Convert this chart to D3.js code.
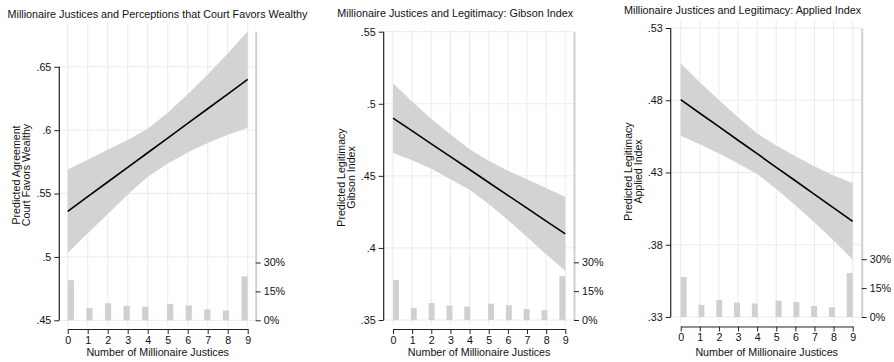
<!DOCTYPE html>
<html>
<head>
<meta charset="utf-8">
<script src="https://cdn.jsdelivr.net/npm/d3@7"></script>
<style>
  html, body { margin: 0; padding: 0; background: #fff; }
  svg { display: block; }
  text { font-family: "Liberation Sans", Arial, sans-serif; fill: #111; }
</style>
</head>
<body>
<svg id="chart" width="894" height="362"></svg>
<script>
// Number of millionaire justices on the Court (x axis)
const justices = [0, 1, 2, 3, 4, 5, 6, 7, 8, 9];

// Share of respondents (%) at each number of millionaire justices
const pctRespondents = [20.8, 6.3, 8.8, 7.5, 7.0, 8.5, 7.7, 5.7, 5.1, 22.8];

// Predicted agreement that the Court favors the wealthy, with 95% CI
const favorsFit = [0.5360, 0.5476, 0.5591, 0.5707, 0.5822, 0.5938, 0.6053, 0.6169, 0.6284, 0.6400];
const favorsLo  = [0.5030, 0.5186, 0.5336, 0.5492, 0.5632, 0.5738, 0.5823, 0.5899, 0.5964, 0.6020];
const favorsHi  = [0.5690, 0.5766, 0.5846, 0.5922, 0.6012, 0.6138, 0.6283, 0.6439, 0.6604, 0.6780];

// Predicted legitimacy, Gibson index, with 95% CI
const gibsonFit = [0.4901, 0.4812, 0.4722, 0.4633, 0.4544, 0.4454, 0.4365, 0.4276, 0.4186, 0.4097];
const gibsonLo  = [0.4659, 0.4609, 0.4550, 0.4477, 0.4404, 0.4304, 0.4194, 0.4076, 0.3956, 0.3840];
const gibsonHi  = [0.5143, 0.5015, 0.4894, 0.4789, 0.4684, 0.4604, 0.4536, 0.4476, 0.4416, 0.4354];

// Predicted legitimacy, applied index, with 95% CI
const appliedFit = [0.4804, 0.4710, 0.4617, 0.4523, 0.4430, 0.4336, 0.4243, 0.4149, 0.4055, 0.3962];
const appliedLo  = [0.4554, 0.4495, 0.4432, 0.4363, 0.4290, 0.4186, 0.4073, 0.3954, 0.3830, 0.3697];
const appliedHi  = [0.5054, 0.4925, 0.4802, 0.4683, 0.4570, 0.4486, 0.4413, 0.4344, 0.4280, 0.4227];

// Axis ticks
const favorsTicks  = [0.45, 0.50, 0.55, 0.60, 0.65];
const gibsonTicks  = [0.35, 0.40, 0.45, 0.50, 0.55];
const appliedTicks = [0.33, 0.38, 0.43, 0.48, 0.53];
const pctTicks = [0, 15, 30];
const pctMax = 150;

const titles = [
  "Millionaire Justices and Perceptions that Court Favors Wealthy",
  "Millionaire Justices and Legitimacy: Gibson Index",
  "Millionaire Justices and Legitimacy: Applied Index"
];
const yTitles = [
  ["Predicted Agreement", "Court Favors Wealthy"],
  ["Predicted Legitimacy", "Gibson Index"],
  ["Predicted Legitimacy", "Applied Index"]
];
const xTitle = "Number of Millionaire Justices";

// Panel geometry
const panels = [
  { fit: favorsFit, lo: favorsLo, hi: favorsHi, ticks: favorsTicks,
    axisX: 59.3, x0: 67.7, x9: 247.7, rightX: 255.7,
    yBot: 320.3, yTop: 31.3, gridTop: 24, gridBot: 326, xAxisY: 329,
    titleX: 7.5, titleY: 17.5 },
  { fit: gibsonFit, lo: gibsonLo, hi: gibsonHi, ticks: gibsonTicks,
    axisX: 383.7, x0: 393, x9: 565.3, rightX: 574,
    yBot: 320, yTop: 31.7, gridTop: 30, gridBot: 325, xAxisY: 329,
    titleX: 337.3, titleY: 17.3 },
  { fit: appliedFit, lo: appliedLo, hi: appliedHi, ticks: appliedTicks,
    axisX: 670.7, x0: 680.7, x9: 852.7, rightX: 861.7,
    yBot: 317, yTop: 28, gridTop: 20, gridBot: 323, xAxisY: 326.5,
    titleX: 624, titleY: 14 }
];

const FONT = 10.7;
const svg = d3.select("#chart");
const fmtDec = v => String(v).replace(/^0/, "");

// Histogram bins: 29 equal-width bins over [0, 9]
const binGen = d3.bin()
  .value(d => d.k)
  .domain([0, 9])
  .thresholds(d3.range(1, 29).map(j => 9 * j / 29));
const binned = binGen(justices.map((k, i) => ({ k, pct: pctRespondents[i] })))
  .map(b => ({ x0: b.x0, x1: b.x1, pct: d3.sum(b, d => d.pct) }))
  .filter(b => b.pct > 0);

panels.forEach((p, idx) => {
  const g = svg.append("g");
  const x = d3.scaleLinear().domain([0, 9]).range([p.x0, p.x9]);
  const yMax = Math.max(p.ticks[p.ticks.length - 1], d3.max(p.hi));
  const y = d3.scaleLinear().domain([p.ticks[0], yMax]).range([p.yBot, p.yTop]);
  const y2 = d3.scaleLinear().domain([0, pctMax]).range([p.yBot, p.yTop]);

  // grid
  g.append("g").selectAll("line").data(p.ticks).join("line")
    .attr("x1", p.axisX).attr("x2", p.rightX)
    .attr("y1", d => y(d)).attr("y2", d => y(d))
    .attr("stroke", "#ebebeb").attr("stroke-width", 1);
  g.append("g").selectAll("line").data(justices).join("line")
    .attr("x1", d => x(d)).attr("x2", d => x(d))
    .attr("y1", p.gridTop).attr("y2", p.gridBot)
    .attr("stroke", "#ebebeb").attr("stroke-width", 1);

  // histogram of respondents
  g.append("g").selectAll("rect").data(binned).join("rect")
    .attr("x", d => x(d.x0))
    .attr("width", d => x(d.x1) - x(d.x0))
    .attr("y", d => y2(d.pct))
    .attr("height", d => y2(0) - y2(d.pct))
    .attr("fill", "#d0d0d0");

  // confidence band
  const area = d3.area()
    .x((d, i) => x(justices[i]))
    .y0((d, i) => y(p.lo[i]))
    .y1((d, i) => y(p.hi[i]));
  g.append("path").datum(p.fit).attr("d", area).attr("fill", "#d3d3d3");

  // predicted line
  const line = d3.line().x((d, i) => x(justices[i])).y(d => y(d));
  g.append("path").datum(p.fit).attr("d", line)
    .attr("fill", "none").attr("stroke", "#000").attr("stroke-width", 1.6);

  // left axis
  const yAxis = d3.axisLeft(y).tickValues(p.ticks).tickFormat(fmtDec).tickSize(5).tickPadding(3);
  const ya = g.append("g").attr("transform", `translate(${p.axisX},0)`).call(yAxis);
  ya.select(".domain").remove();
  ya.append("line")
    .attr("x1", 0).attr("x2", 0)
    .attr("y1", y(p.ticks[0])).attr("y2", y(p.ticks[p.ticks.length - 1]))
    .attr("stroke", "#222").attr("stroke-width", 1.2);

  // right (percent) axis
  const y2Axis = d3.axisRight(y2).tickValues(pctTicks).tickFormat(d => d + "%")
    .tickSize(5).tickSizeOuter(0).tickPadding(3);
  const ra = g.append("g").attr("transform", `translate(${p.rightX},0)`).call(y2Axis);
  ra.select(".domain").attr("stroke", "#d0d0d0").attr("stroke-width", 2);

  // bottom axis
  const xAxis = d3.axisBottom(x).tickValues(justices).tickSize(5).tickSizeOuter(0).tickPadding(2);
  const xa = g.append("g").attr("transform", `translate(0,${p.xAxisY})`).call(xAxis);
  xa.select(".domain").attr("stroke", "#222").attr("stroke-width", 1.2);

  [ya, ra, xa].forEach(a => {
    a.attr("font-family", null).attr("font-size", null);
    a.selectAll(".tick line").attr("stroke", "#222");
    a.selectAll("text").style("font-size", FONT + "px").attr("fill", "#111");
  });

  // titles
  g.append("text").attr("x", p.titleX).attr("y", p.titleY)
    .style("font-size", "10.8px").text(titles[idx]);

  g.append("text")
    .attr("x", (p.x0 + p.x9) / 2).attr("y", 356)
    .attr("text-anchor", "middle").style("font-size", FONT + "px")
    .text(xTitle);

  const yc = (p.gridTop + p.gridBot) / 2;
  yTitles[idx].forEach((t, j) => {
    const bx = p.axisX - 39 + j * 10;
    g.append("text")
      .attr("transform", `translate(${bx},${yc}) rotate(-90)`)
      .attr("text-anchor", "middle").style("font-size", "10.6px")
      .text(t);
  });
});
</script>
</body>
</html>
